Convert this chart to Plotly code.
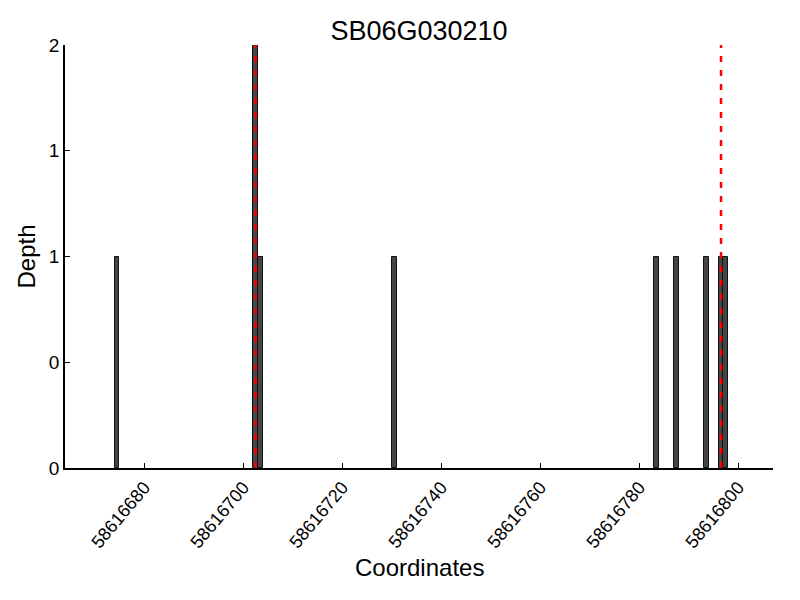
import plotly.graph_objects as go

title = "SB06G030210"
positions = [58616674.5, 58616702.5, 58616703.5, 58616730.5, 58616783.5,
             58616787.5, 58616793.5, 58616796.5, 58616797.5]
depths = [1, 2, 1, 1, 1, 1, 1, 1, 1]
gene_bounds = [58616702.5, 58616796.5]
x_ticks = [58616680, 58616700, 58616720, 58616740, 58616760, 58616780, 58616800]
y_ticks = [0, 0.5, 1, 1.5, 2]
y_tick_labels = ["0", "0", "1", "1", "2"]
x_range = [58616664, 58616807]

FONT = "Liberation Sans, Arial, sans-serif"

fig = go.Figure()
fig.add_trace(go.Bar(
    x=positions, y=depths, width=1,
    marker=dict(color="#454545", line=dict(color="#111111", width=1)),
    showlegend=False,
))
for gb in gene_bounds:
    fig.add_trace(go.Scatter(
        x=[gb, gb], y=[0, 2], mode="lines",
        line=dict(color="#ff0000", width=2.5, dash="6px,8px"),
        showlegend=False, hoverinfo="skip",
    ))

fig.update_layout(
    width=800, height=600,
    margin=dict(l=57, r=35, t=37, b=140),
    plot_bgcolor="white", paper_bgcolor="white",
    font=dict(family=FONT, color="black", size=18),
    title=dict(text=title, x=0.5, xanchor="center", xref="paper",
               y=0.963, yanchor="middle", yref="container",
               font=dict(size=27, family=FONT)),
    bargap=0,
    annotations=[dict(text="Coordinates", xref="paper", yref="paper",
                      x=0.5, y=-0.236, xanchor="center", yanchor="middle",
                      showarrow=False, font=dict(size=24, family=FONT))],
)
fig.update_xaxes(
    range=x_range, tickmode="array", tickvals=x_ticks,
    ticktext=[str(t) for t in x_ticks], tickangle=-50,
    ticks="inside", ticklen=5, tickcolor="black", tickwidth=1,
    showline=True, linecolor="black", linewidth=1.5, mirror=False,
    showgrid=False, zeroline=False,
    tickfont=dict(size=18),
)
fig.update_yaxes(
    range=[0, 2], tickmode="array", tickvals=y_ticks, ticktext=y_tick_labels,
    ticks="inside", ticklen=5, tickcolor="black", tickwidth=1,
    showline=True, linecolor="black", linewidth=1.5,
    showgrid=False, zeroline=False,
    tickfont=dict(size=19),
    title=dict(text="Depth", font=dict(size=24), standoff=6),
)

fig.write_html("out.html")
